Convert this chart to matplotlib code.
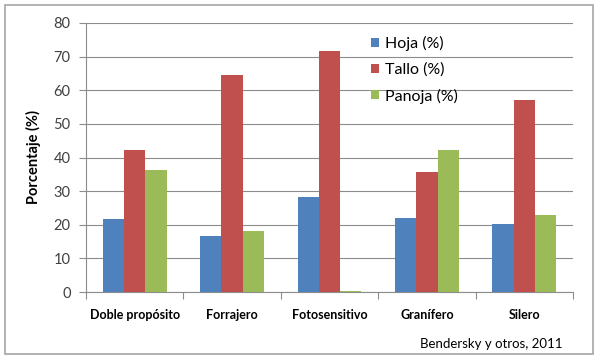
import matplotlib
matplotlib.use('Agg')
import matplotlib.pyplot as plt
import matplotlib.patches as patches
import numpy as np

plt.rcParams['font.family'] = ['Lato', 'DejaVu Sans']

categorias = ['Doble propósito', 'Forrajero', 'Fotosensitivo', 'Granífero', 'Silero']
hoja = [21.6, 16.7, 28.3, 21.9, 20.1]
tallo = [42.2, 64.5, 71.7, 35.8, 57.2]
panoja = [36.3, 18.2, 0.4, 42.2, 22.9]
series = ['Hoja (%)', 'Tallo (%)', 'Panoja (%)']
colores = ['#4F81BD', '#C0504D', '#9BBB59']
y_ticks = [0, 10, 20, 30, 40, 50, 60, 70, 80]
fuente = 'Bendersky y otros, 2011'

fig = plt.figure(figsize=(6.0, 3.59), dpi=100)
ax = fig.add_axes([86 / 600, 1 - 292 / 359, 487 / 600, 269 / 359])

# marco exterior del grafico
marco = patches.Rectangle((5 / 600, 1 - 354 / 359), 588 / 600, 349 / 359,
                          transform=fig.transFigure, fill=False,
                          edgecolor='#A6A6A6', linewidth=1.2)
fig.patches.append(marco)

x = np.arange(len(categorias))
ancho = 0.219
for i, (valores, nombre, color) in enumerate(zip([hoja, tallo, panoja], series, colores)):
    ax.bar(x + (i - 1) * ancho, valores, ancho, color=color, label=nombre, zorder=3)

ax.set_xlim(-0.5, len(categorias) - 0.5)
ax.set_ylim(0, 80)
ax.set_yticks(y_ticks)
ax.yaxis.grid(True, color='#8C8C8C', linewidth=0.8, zorder=0)

ax.set_xticks(np.arange(-0.5, len(categorias), 1.0))
ax.set_xticklabels([])
ax.set_xticks(x, minor=True)
ax.set_xticklabels(categorias, minor=True, fontsize=9, fontweight='bold')
ax.tick_params(axis='x', which='minor', length=0, pad=12)
ax.tick_params(axis='x', which='major', length=5, color='#8C8C8C', direction='out')
ax.tick_params(axis='y', length=5, color='#8C8C8C', labelsize=10.5,
               labelcolor='#404040', pad=6)

for lado in ['top', 'right']:
    ax.spines[lado].set_visible(False)
for lado in ['left', 'bottom']:
    ax.spines[lado].set_color('#8C8C8C')
    ax.spines[lado].set_linewidth(0.8)

ax.set_ylabel('Porcentaje (%)', fontsize=10.5, fontweight='bold', labelpad=9)

ax.legend(loc='upper left', bbox_to_anchor=(0.572, 0.975), frameon=False,
          fontsize=11.5, handlelength=0.5, handleheight=0.5, handletextpad=0.35,
          labelspacing=0.72, borderaxespad=0)

fig.text(562 / 600, 1 - 344 / 359, fuente, ha='right', va='center', fontsize=9.5)

fig.savefig('out.png', dpi=100)
